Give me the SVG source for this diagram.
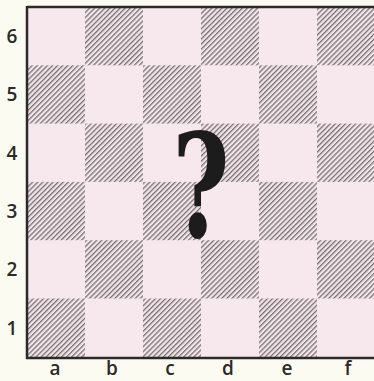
<svg xmlns="http://www.w3.org/2000/svg" width="374" height="381" viewBox="0 0 374 381">
<defs>
<pattern id="hatch" patternUnits="userSpaceOnUse" width="3.6" height="3.6" patternTransform="rotate(45)">
<rect width="3.6" height="3.6" fill="#f3e6ea"/>
<rect x="0" y="0" width="1.3" height="3.6" fill="#777074"/>
</pattern>
</defs>
<style>
.lt{fill:#f6e8ec}
.dk{fill:url(#hatch)}
.lbl{font-family:"Open Sans","Liberation Sans",Arial,sans-serif;font-weight:600;fill:#2a2a2a;text-anchor:middle}
.rk{font-size:19px}
.fl{font-size:19px}
</style>
<rect width="374" height="381" fill="#fcfbf1"/>
<g id="board">
<rect x="27" y="7" width="348" height="350" class="lt"/>
<rect x="85" y="7" width="58" height="58.3" class="dk"/>
<rect x="201" y="7" width="58" height="58.3" class="dk"/>
<rect x="317" y="7" width="58" height="58.3" class="dk"/>
<rect x="27" y="65.3" width="58" height="58.3" class="dk"/>
<rect x="143" y="65.3" width="58" height="58.3" class="dk"/>
<rect x="259" y="65.3" width="58" height="58.3" class="dk"/>
<rect x="85" y="123.6" width="58" height="58.3" class="dk"/>
<rect x="201" y="123.6" width="58" height="58.3" class="dk"/>
<rect x="317" y="123.6" width="58" height="58.3" class="dk"/>
<rect x="27" y="181.9" width="58" height="58.3" class="dk"/>
<rect x="143" y="181.9" width="58" height="58.3" class="dk"/>
<rect x="259" y="181.9" width="58" height="58.3" class="dk"/>
<rect x="85" y="240.2" width="58" height="58.3" class="dk"/>
<rect x="201" y="240.2" width="58" height="58.3" class="dk"/>
<rect x="317" y="240.2" width="58" height="58.3" class="dk"/>
<rect x="27" y="298.5" width="58" height="58.5" class="dk"/>
<rect x="143" y="298.5" width="58" height="58.5" class="dk"/>
<rect x="259" y="298.5" width="58" height="58.5" class="dk"/>
<path d="M27,7 H374 M27,6 V358 H374" fill="none" stroke="#2a2a2a" stroke-width="2.5"/>
</g>
<g id="ranks">
<text class="lbl rk" x="12" y="43">6</text>
<text class="lbl rk" x="12" y="101">5</text>
<text class="lbl rk" x="12" y="160">4</text>
<text class="lbl rk" x="12" y="218">3</text>
<text class="lbl rk" x="12" y="276">2</text>
<text class="lbl rk" x="12" y="335">1</text>
</g>
<g id="files">
<text class="lbl fl" x="55" y="375">a</text>
<text class="lbl fl" x="112" y="375">b</text>
<text class="lbl fl" x="170" y="375">c</text>
<text class="lbl fl" x="228" y="375">d</text>
<text class="lbl fl" x="287" y="375">e</text>
<text class="lbl fl" x="348" y="375">f</text>
</g>
<g id="question">
<text x="0" y="0" transform="translate(201,237) scale(0.68,1)" font-family="DejaVu Serif, serif" font-weight="bold" font-size="144" fill="#1c1c1c" text-anchor="middle">?</text>
</g>
</svg>
